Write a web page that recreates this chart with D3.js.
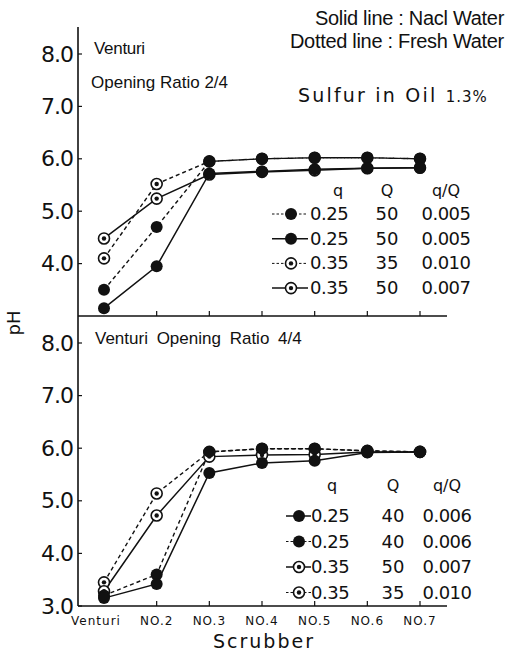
<!DOCTYPE html>
<html>
<head>
<meta charset="utf-8">
<script src="https://cdn.jsdelivr.net/npm/d3@7"></script>
<style>
  body { margin: 0; background: #fff; }
  text { fill: #111; }
</style>
</head>
<body>
<div id="chart"></div>
<script>
// Data
var scrubbers = ["Venturi", "No.2", "No.3", "No.4", "No.5", "No.6", "No.7"];
var scrubberLabels = ["Venturi", "NO.2", "NO.3", "NO.4", "NO.5", "NO.6", "NO.7"];
var yTicks = [3, 4, 5, 6, 7, 8];

// top panel: venturi opening ratio 2/4
var topFreshFilled = [3.5, 4.7, 5.95, 6.0, 6.02, 6.02, 6.0];
var topNaclFilled = [3.15, 3.95, 5.72, 5.76, 5.8, 5.82, 5.83];
var topFreshCircle = [4.1, 5.52, 5.95, 6.0, 6.02, 6.02, 6.0];
var topNaclCircle = [4.48, 5.24, 5.7, 5.75, 5.78, 5.82, 5.83];
var topLegendq = ["0.25", "0.25", "0.35", "0.35"];
var topLegendQ = ["50", "50", "35", "50"];
var topLegendRatio = ["0.005", "0.005", "0.010", "0.007"];

// bottom panel: venturi opening ratio 4/4
var botNaclFilled = [3.15, 3.42, 5.53, 5.72, 5.76, 5.92, 5.93];
var botFreshFilled = [3.2, 3.6, 5.93, 5.99, 5.99, 5.95, 5.93];
var botNaclCircle = [3.28, 4.72, 5.84, 5.87, 5.88, 5.93, 5.93];
var botFreshCircle = [3.45, 5.14, 5.93, 5.99, 5.99, 5.95, 5.93];
var botLegendq = ["0.25", "0.25", "0.35", "0.35"];
var botLegendQ = ["40", "40", "50", "35"];
var botLegendRatio = ["0.006", "0.006", "0.007", "0.010"];

var svgWidth = 512;
var svgHeight = 654;
var numFont = "'DejaVu Sans', sans-serif";
var textFont = "'Liberation Sans', sans-serif";

var svg = d3.select("#chart")
  .append("svg")
  .attr("width", svgWidth)
  .attr("height", svgHeight);

// line styles
var dashFor = { solid: null, dashed: "4,3", dotted: "2,2.5" };

// shared x scale
var xScale = d3.scalePoint()
  .domain(scrubbers)
  .range([104, 420]);

var axisLeftX = 78;
var axisRightX = 447;

function drawMarker(g, x, y, kind) {
  if (kind === "filled") {
    g.append("circle").attr("cx", x).attr("cy", y).attr("r", 6)
      .attr("fill", "#111");
  } else {
    g.append("circle").attr("cx", x).attr("cy", y).attr("r", 5.5)
      .attr("fill", "#fff").attr("stroke", "#111").attr("stroke-width", 1.6);
    g.append("circle").attr("cx", x).attr("cy", y).attr("r", 2.2)
      .attr("fill", "#111");
  }
}

function drawPanel(opts) {
  var yScale = d3.scaleLinear().domain([3, 8]).range([opts.bottom, opts.y8]);
  var g = svg.append("g");

  // y axis line
  g.append("line")
    .attr("x1", axisLeftX).attr("x2", axisLeftX)
    .attr("y1", opts.top).attr("y2", opts.bottom)
    .attr("stroke", "#111").attr("stroke-width", 1.6);
  // x axis line
  g.append("line")
    .attr("x1", axisLeftX).attr("x2", axisRightX)
    .attr("y1", opts.bottom).attr("y2", opts.bottom)
    .attr("stroke", "#111").attr("stroke-width", 1.6);

  // y ticks + labels
  yTicks.forEach(function(t) {
    if (t === 3 && !opts.show3) return;
    var y = yScale(t);
    g.append("line")
      .attr("x1", axisLeftX).attr("x2", axisLeftX + 4)
      .attr("y1", y).attr("y2", y)
      .attr("stroke", "#111").attr("stroke-width", 1.2);
    g.append("text")
      .attr("x", axisLeftX - 5).attr("y", y + 7.5)
      .attr("text-anchor", "end")
      .style("font-family", numFont)
      .style("font-size", "22px")
      .style("letter-spacing", "-1px")
      .text(t.toFixed(1));
  });

  // x ticks (pointing up)
  scrubbers.slice(1).forEach(function(s) {
    g.append("line")
      .attr("x1", xScale(s)).attr("x2", xScale(s))
      .attr("y1", opts.bottom).attr("y2", opts.bottom - 5)
      .attr("stroke", "#111").attr("stroke-width", 1.2);
  });

  var line = d3.line()
    .x(function(d, i) { return xScale(scrubbers[i]); })
    .y(function(d) { return yScale(d); });

  // lines first, then markers (circle series below filled ones)
  opts.series.forEach(function(s) {
    g.append("path")
      .attr("d", line(s.values))
      .attr("fill", "none")
      .attr("stroke", "#111")
      .attr("stroke-width", s.style === "solid" ? 1.5 : 1.4)
      .attr("stroke-dasharray", dashFor[s.style]);
  });
  opts.series.filter(function(s) { return s.marker === "circle"; })
    .concat(opts.series.filter(function(s) { return s.marker === "filled"; }))
    .forEach(function(s) {
      s.values.forEach(function(v, i) {
        drawMarker(g, xScale(scrubbers[i]), yScale(v), s.marker);
      });
    });

  // legend
  var lg = opts.legend;
  [["q", lg.qx], ["Q", lg.Qx], ["q/Q", lg.rx]].forEach(function(h) {
    g.append("text")
      .attr("x", h[1]).attr("y", lg.headY)
      .attr("text-anchor", "middle")
      .style("font-family", numFont)
      .style("font-size", "16px")
      .text(h[0]);
  });
  lg.rows.forEach(function(r, i) {
    var y = lg.rowY + i * lg.rowGap;
    g.append("line")
      .attr("x1", lg.lineX1).attr("x2", lg.lineX2)
      .attr("y1", y - 6).attr("y2", y - 6)
      .attr("stroke", "#111")
      .attr("stroke-width", r.style === "solid" ? 1.5 : 1)
      .attr("stroke-dasharray", r.style === "solid" ? null : "2.5,2");
    drawMarker(g, lg.markX, y - 6, r.marker);
    g.append("text")
      .attr("x", lg.textX).attr("y", y)
      .style("font-family", numFont)
      .style("font-size", "18px")
      .style("letter-spacing", "-0.5px")
      .text(lg.q[i]);
    g.append("text")
      .attr("x", lg.Qx).attr("y", y)
      .attr("text-anchor", "middle")
      .style("font-family", numFont)
      .style("font-size", "18px")
      .text(lg.Q[i]);
    g.append("text")
      .attr("x", lg.rx).attr("y", y)
      .attr("text-anchor", "middle")
      .style("font-family", numFont)
      .style("font-size", "18px")
      .style("letter-spacing", "-0.5px")
      .text(lg.ratio[i]);
  });
  return yScale;
}

// top panel
drawPanel({
  top: 27, bottom: 316, y8: 54, show3: false,
  series: [
    { values: topFreshCircle, style: "dashed", marker: "circle" },
    { values: topNaclCircle, style: "solid", marker: "circle" },
    { values: topFreshFilled, style: "dashed", marker: "filled" },
    { values: topNaclFilled, style: "solid", marker: "filled" }
  ],
  legend: {
    headY: 196, rowY: 220, rowGap: 24.7,
    qx: 338, Qx: 387, rx: 446,
    lineX1: 272, lineX2: 308, markX: 291, textX: 310,
    q: topLegendq, Q: topLegendQ, ratio: topLegendRatio,
    rows: [
      { style: "dotted", marker: "filled" },
      { style: "solid", marker: "filled" },
      { style: "dotted", marker: "circle" },
      { style: "solid", marker: "circle" }
    ]
  }
});

// bottom panel
drawPanel({
  top: 316, bottom: 606, y8: 343, show3: true,
  series: [
    { values: botFreshCircle, style: "dashed", marker: "circle" },
    { values: botNaclCircle, style: "solid", marker: "circle" },
    { values: botFreshFilled, style: "dashed", marker: "filled" },
    { values: botNaclFilled, style: "solid", marker: "filled" }
  ],
  legend: {
    headY: 491, rowY: 522, rowGap: 25.5,
    qx: 332, Qx: 393, rx: 447,
    lineX1: 286, lineX2: 311, markX: 299, textX: 311,
    q: botLegendq, Q: botLegendQ, ratio: botLegendRatio,
    rows: [
      { style: "solid", marker: "filled" },
      { style: "dotted", marker: "filled" },
      { style: "solid", marker: "circle" },
      { style: "dotted", marker: "circle" }
    ]
  }
});

// x category labels
svg.selectAll(".xlab")
  .data(scrubbers)
  .enter()
  .append("text")
  .attr("class", "xlab")
  .attr("x", function(d, i) { return i === 0 ? 96 : xScale(d); })
  .attr("y", 625)
  .attr("text-anchor", "middle")
  .style("font-family", numFont)
  .style("font-size", "12px")
  .style("letter-spacing", "1px")
  .text(function(d, i) { return scrubberLabels[i]; });

svg.append("text")
  .attr("x", 264).attr("y", 648)
  .attr("text-anchor", "middle")
  .style("font-family", numFont)
  .style("font-size", "19px")
  .style("letter-spacing", "2px")
  .text("Scrubber");

// pH
svg.append("text")
  .attr("transform", "translate(20, 323) rotate(-90)")
  .attr("text-anchor", "middle")
  .style("font-family", numFont)
  .style("font-size", "18px")
  .text("pH");

// panel titles
svg.append("text")
  .attr("x", 94).attr("y", 54)
  .style("font-family", textFont)
  .style("font-size", "17px")
  .style("letter-spacing", "-0.3px")
  .text("Venturi");
svg.append("text")
  .attr("x", 91).attr("y", 88)
  .style("font-family", textFont)
  .style("font-size", "17px")
  .style("letter-spacing", "0px")
  .text("Opening Ratio 2/4");
svg.append("text")
  .attr("x", 95).attr("y", 344)
  .style("font-family", textFont)
  .style("font-size", "17px")
  .style("word-spacing", "4px")
  .text("Venturi  Opening Ratio 4/4");

// notes
svg.append("text")
  .attr("x", 504).attr("y", 25)
  .attr("text-anchor", "end")
  .style("font-family", textFont)
  .style("font-size", "20px")
  .style("letter-spacing", "-0.3px")
  .text("Solid line : Nacl Water");
svg.append("text")
  .attr("x", 504).attr("y", 48)
  .attr("text-anchor", "end")
  .style("font-family", textFont)
  .style("font-size", "20px")
  .style("letter-spacing", "-0.3px")
  .text("Dotted line : Fresh Water");

var sulfur = svg.append("text")
  .attr("x", 298).attr("y", 102)
  .style("font-family", numFont)
  .style("font-size", "19px")
  .style("letter-spacing", "2.2px");
sulfur.append("tspan").text("Sulfur in Oil ");
sulfur.append("tspan").style("font-size", "15px").style("letter-spacing", "1px").text("1.3%");
</script>
</body>
</html>
